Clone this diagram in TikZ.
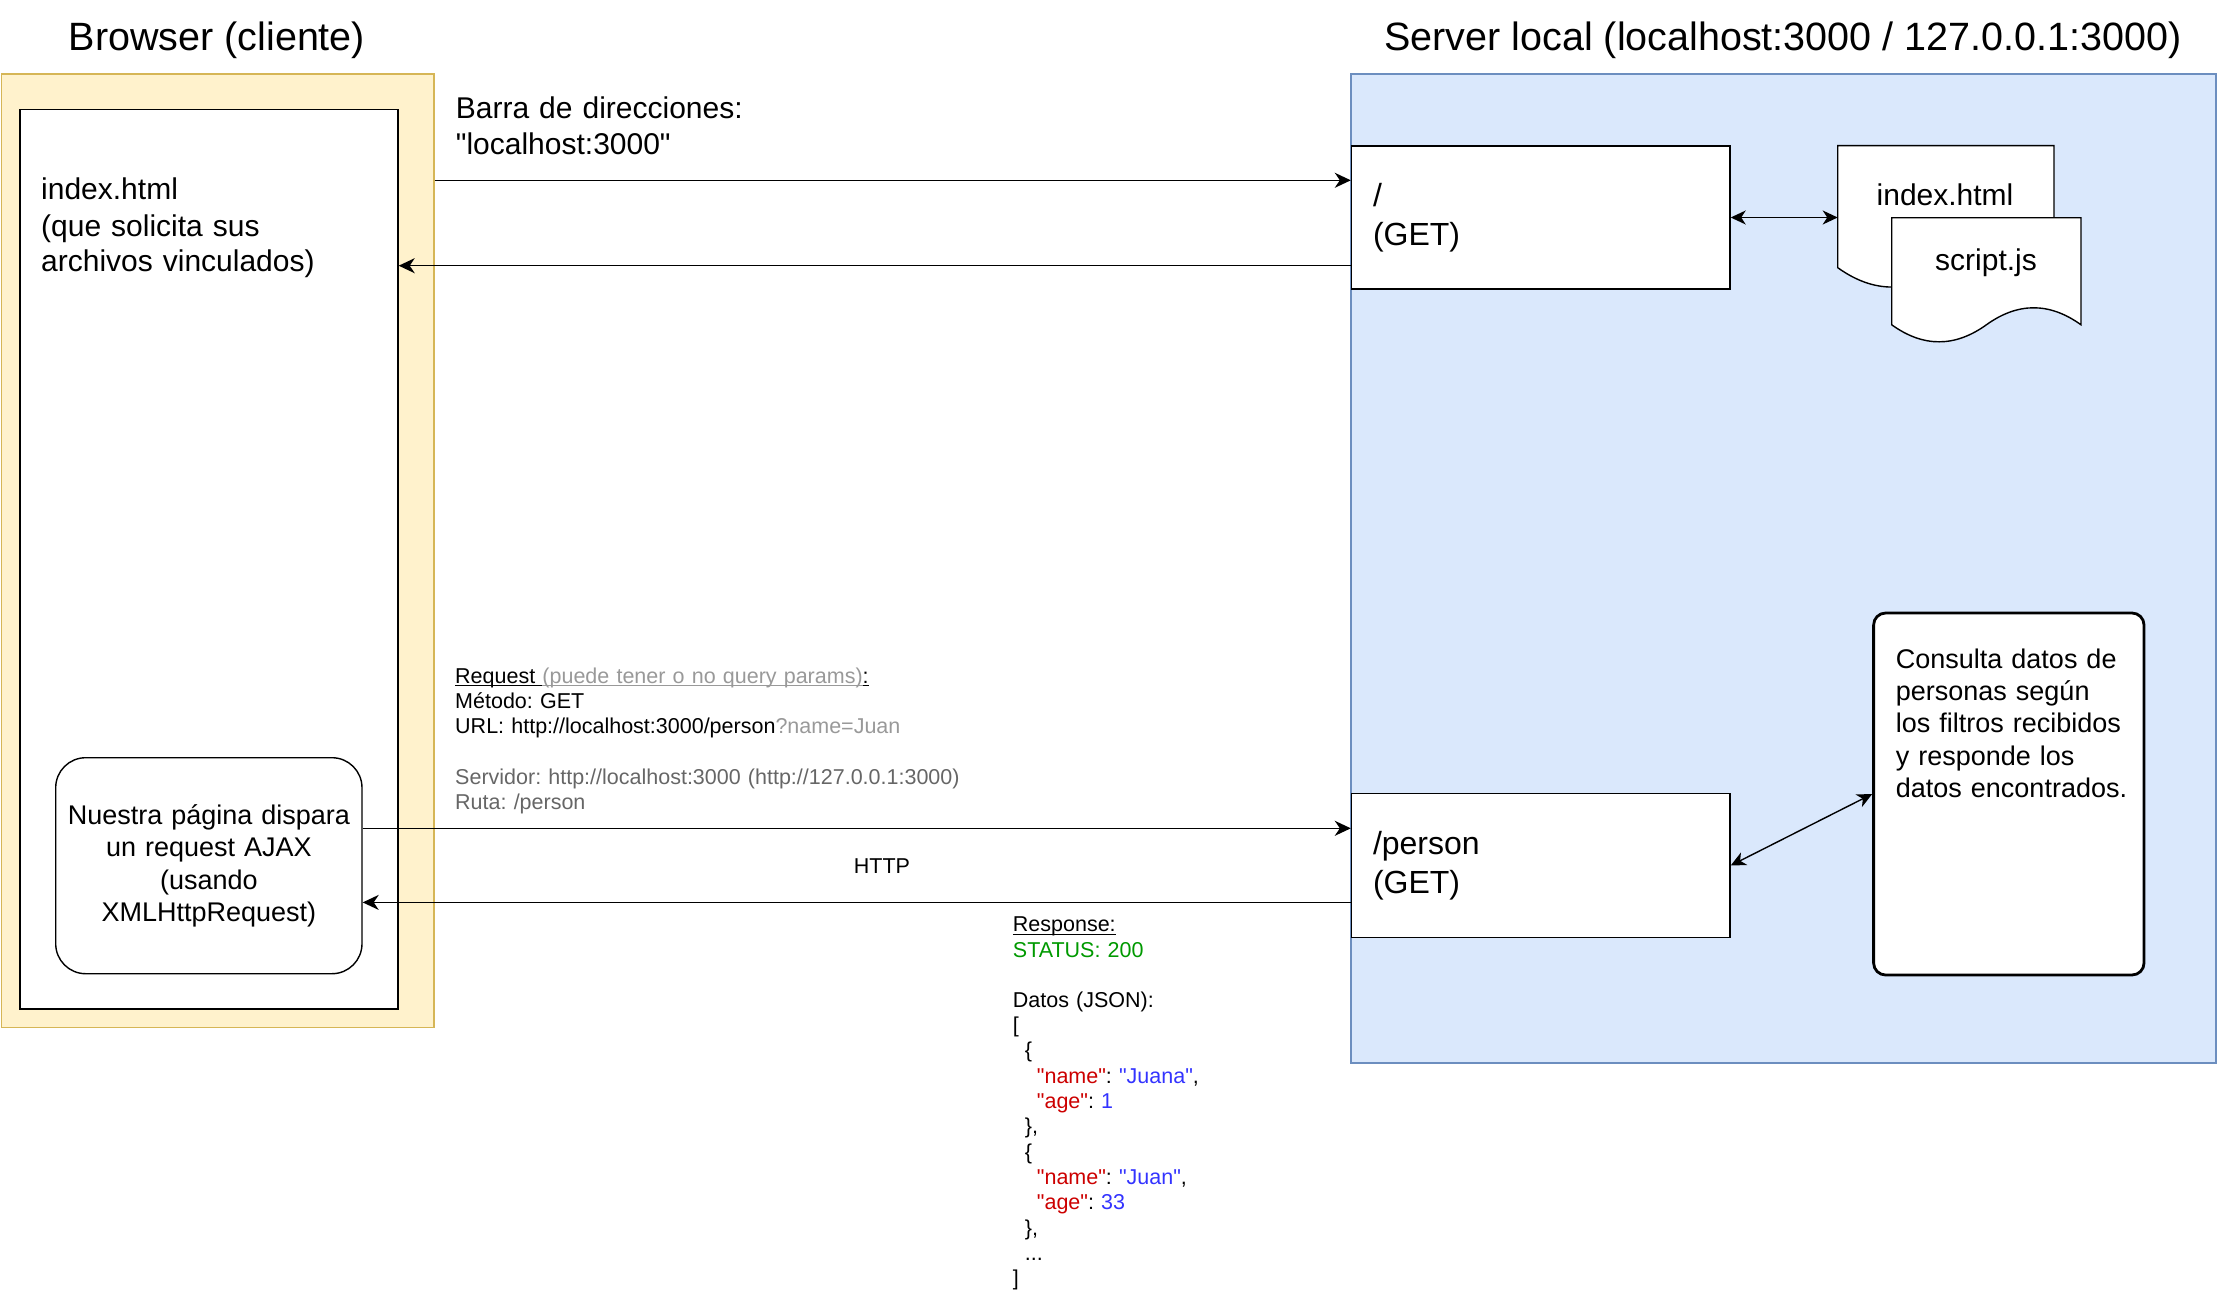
\documentclass[tikz,border=0pt]{standalone}
\usepackage{fontspec}
\setmainfont{Liberation Sans}
\newfontfamily\rawsans{Liberation Sans}
\usetikzlibrary{arrows.meta}

\definecolor{clientfill}{HTML}{FFF2CC}
\definecolor{clientline}{HTML}{D6B656}
\definecolor{serverfill}{HTML}{DAE8FC}
\definecolor{serverline}{HTML}{6C8EBF}
\definecolor{softgray}{HTML}{999999}
\definecolor{darkgray}{HTML}{666666}
\definecolor{okgreen}{HTML}{009900}
\definecolor{jsonkey}{HTML}{CC0000}
\definecolor{jsonval}{HTML}{3333FF}

% underline at a fixed depth
\newcommand{\uln}[1]{\setbox0=\hbox{#1}\rlap{\rule[-3pt]{\wd0}{1.2pt}}\box0}

% document shape: left, top, width, height
\newcommand{\docshape}[4]{%
  \pgfmathsetmacro{\docdx}{#3/6}
  \pgfmathsetmacro{\docdy}{0.3*#4}
  \pgfmathsetmacro{\docyb}{#2+#4-0.5*\docdy}
  \pgfmathsetmacro{\docxm}{#1+0.5*#3}
  \filldraw[fill=white, line width=1.4pt] (#1,#2) -- (#1+#3,#2) -- (#1+#3,\docyb)
    .. controls (#1+#3-\docdx,\docyb-0.6*\docdy) and (\docxm+\docdx,\docyb-0.6*\docdy) .. (\docxm,\docyb)
    .. controls (\docxm-\docdx,\docyb+0.6*\docdy) and (#1+\docdx,\docyb+0.6*\docdy) .. (#1,\docyb) -- cycle;
}

\begin{document}
\frenchspacing
\begin{tikzpicture}[x=1pt, y=-1pt,
    area/.style={draw, line width=1.4pt, inner sep=0pt},
    routebox/.style={draw, fill=white, line width=1.4pt, inner xsep=21.5pt,
      text width=335.5pt, align=left, minimum height=143pt,
      font=\fontsize{32}{38.5}\selectfont},
    ttl/.style={font=\fontsize{39.5}{47}\selectfont, inner sep=0pt},
    txt/.style={font=\rawsans\fontsize{30}{36}\selectfont, inner sep=0pt, align=left},
    boxtxt/.style={font=\fontsize{27}{32.4}\selectfont, inner sep=0pt, align=left},
    small/.style={font=\rawsans\fontsize{21.5}{25.3}\selectfont, inner sep=0pt, align=left},
    arr/.style={-{Stealth[length=16pt, width=15pt, inset=5pt]}, line width=1.4pt},
    darr/.style={{Stealth[length=15pt, width=14pt, inset=4.5pt]}-{Stealth[length=15pt, width=14pt, inset=4.5pt]}, line width=1.4pt}]

  \useasboundingbox (0,0) rectangle (2218,1300);

  % client side
  \node[area, draw=clientline, fill=clientfill, minimum width=432.5pt, minimum height=953.7pt] (browser) at (217.75,550.85) {};
  \node[area, fill=white, minimum width=378pt, minimum height=899.7pt] (page) at (209,559.15) {};
  \node[area, fill=white, rounded corners=30pt, minimum width=306.3pt, minimum height=216pt,
    font=\fontsize{27}{32.4}\selectfont, align=center, text width=290pt] (ajax) at (208.85,865.7)
    {Nuestra página dispara\\un request AJAX\\(usando\\XMLHttpRequest)};

  % server side
  \node[area, draw=serverline, fill=serverfill, minimum width=865pt, minimum height=989pt] (server) at (1783.5,568.5) {};
  \node[routebox] (root) at (1540.75,217.5) {/\\(GET)};
  \node[routebox, minimum height=144.4pt] (person) at (1540.75,865.5) {/person\\(GET)};
  \node[area, fill=white, line width=2.8pt, rounded corners=12pt, minimum width=270.4pt, minimum height=362pt] (consulta) at (2008.8,794) {};

  \docshape{1837.7}{145.7}{216.3}{143.5}
  \docshape{1891.7}{217.7}{189.3}{126}
  \coordinate (indexdoc) at (1837.7,217.5);

  % texts
  \node[ttl, anchor=base] (browsertitle) at (217,50.7) {Browser (cliente)};
  \node[ttl, anchor=base] (servertitle) at (1783,50.7) {Server local (localhost:3000 / 127.0.0.1:3000)};
  \node[txt, anchor=base west, text width=400pt] (barra) at (455.7,119) {Barra de direcciones:\\"localhost:3000"};
  \node[txt, anchor=base west, text width=340pt] (pagetxt) at (41,200) {index.html\\(que solicita sus\\archivos vinculados)};
  \node[txt, anchor=base] (indexname) at (1945,205) {index.html};
  \node[txt, anchor=base] (scriptname) at (1986,270) {script.js};
  \node[boxtxt, anchor=base west, text width=240pt] (consultatxt) at (1895.7,668)
    {Consulta datos de\\personas según\\los filtros recibidos\\y responde los\\datos encontrados.};

  \node[small, anchor=base west, text width=600pt] (request) at (455,683.3)
    {\uln{Request }\textcolor{softgray}{\uln{(puede tener o no query params)}}\uln{:}\\
     Método: GET\\
     URL: http://localhost:3000/person\textcolor{softgray}{?name=Juan}\\[25pt]
     \textcolor{darkgray}{Servidor: http://localhost:3000 (http://127.0.0.1:3000)}\\
     \textcolor{darkgray}{Ruta: /person}};
  \node[small, anchor=base] (http) at (882,873) {HTTP};
  \node[small, anchor=base west, text width=250pt] (response) at (1012.7,931.7)
    {\uln{Response:}\\
     \textcolor{okgreen}{STATUS: 200}\\[25pt]
     Datos (JSON):\\
     {[}\\
     \hspace*{12pt}\{\\
     \hspace*{24pt}\textcolor{jsonkey}{"name"}: \textcolor{jsonval}{"Juana"},\\
     \hspace*{24pt}\textcolor{jsonkey}{"age"}: \textcolor{jsonval}{1}\\
     \hspace*{12pt}\},\\
     \hspace*{12pt}\{\\
     \hspace*{24pt}\textcolor{jsonkey}{"name"}: \textcolor{jsonval}{"Juan"},\\
     \hspace*{24pt}\textcolor{jsonkey}{"age"}: \textcolor{jsonval}{33}\\
     \hspace*{12pt}\},\\
     \hspace*{12pt}...\\
     {]}};

  % connectors
  \coordinate (reqtop) at ([yshift=-35pt]root.north west);
  \coordinate (resptop) at ([yshift=24pt]root.south west);
  \coordinate (ajaxreq) at ([yshift=-35.7pt]person.north west);
  \coordinate (ajaxresp) at ([yshift=36pt]person.south west);
  \draw[arr] (reqtop -| browser.east) -- (reqtop);
  \draw[arr] (resptop) -- (resptop -| page.east);
  \draw[darr] (root.east) -- (indexdoc);
  \draw[arr] (ajaxreq -| ajax.east) -- (ajaxreq);
  \draw[arr] (ajaxresp) -- (ajaxresp -| ajax.east);
  \draw[darr] (person.east) -- (consulta.west);
\end{tikzpicture}
\end{document}
